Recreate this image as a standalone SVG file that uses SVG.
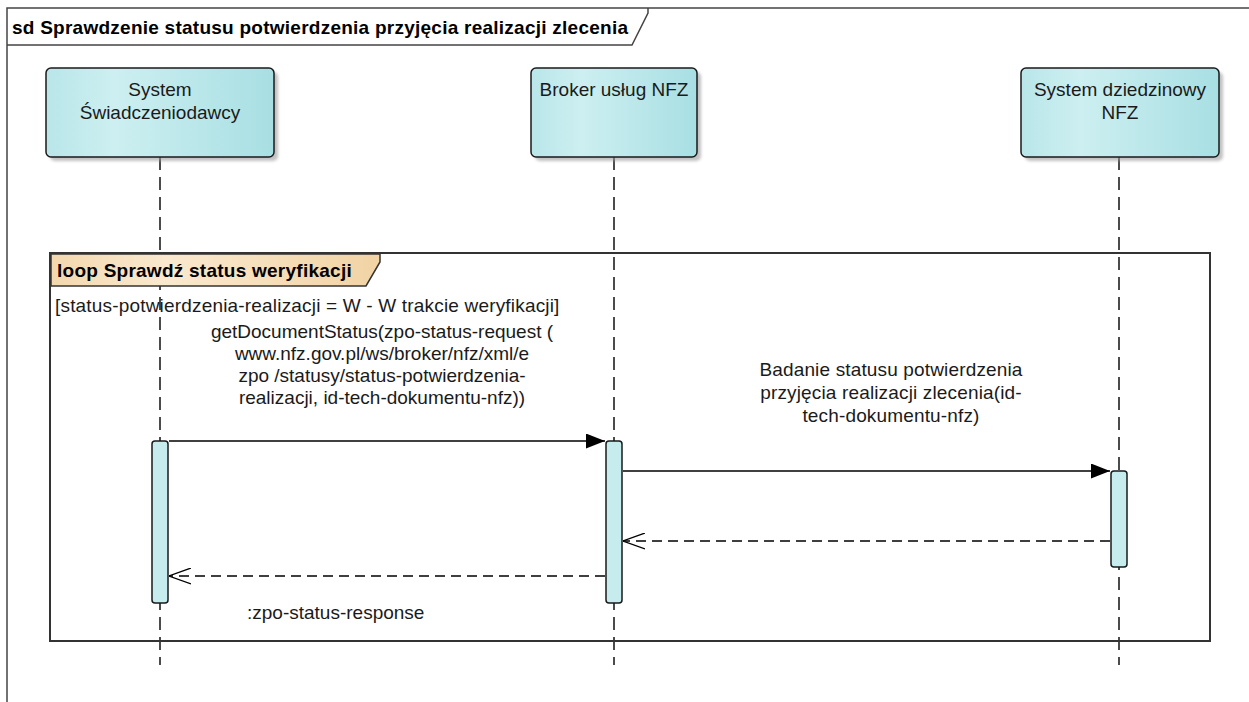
<svg xmlns="http://www.w3.org/2000/svg" width="1249" height="702" viewBox="0 0 1249 702">
<defs>
<linearGradient id="nodeGrad" x1="0" y1="0" x2="1" y2="0">
<stop offset="0" stop-color="#B9E6E9"/>
<stop offset="0.3" stop-color="#CDEFF1"/>
<stop offset="1" stop-color="#A8DFE3"/>
</linearGradient>
<linearGradient id="loopGrad" x1="0" y1="0" x2="1" y2="0">
<stop offset="0" stop-color="#F3D8AE"/>
<stop offset="0.35" stop-color="#FAE9CF"/>
<stop offset="1" stop-color="#F1D3A4"/>
</linearGradient>
<filter id="shadow" x="-10%" y="-10%" width="130%" height="130%">
<feGaussianBlur stdDeviation="1.5"/>
</filter>
<marker id="filled" viewBox="0 0 19 15" refX="19" refY="7.5" markerWidth="19" markerHeight="15" markerUnits="userSpaceOnUse" orient="auto">
<path d="M0,0 L19,7.5 L0,15 Z" fill="#000"/>
</marker>
<marker id="open" viewBox="0 0 22 17" refX="22" refY="8.5" markerWidth="22" markerHeight="17" markerUnits="userSpaceOnUse" orient="auto">
<path d="M0,0.5 L22,8.5 L0,16.5" fill="none" stroke="#000" stroke-width="1.3"/>
</marker>
</defs>
<style>
text{font-family:"Liberation Sans",Arial,sans-serif;font-size:19px;fill:#1a1a1a}
.bold{font-weight:bold;fill:#000;letter-spacing:0.25px}
.mid{text-anchor:middle}
.node{fill:url(#nodeGrad);stroke:#1a1a1a;stroke-width:1.5}
.shadow{fill:#9a9a9a;opacity:0.6;filter:url(#shadow)}
.life{stroke:#111;stroke-width:1.5;stroke-dasharray:13 7;fill:none}
.act{fill:#C6ECEE;stroke:#1a1a1a;stroke-width:1.5}
.msg{stroke:#000;stroke-width:1.5;fill:none}
.ret{stroke:#000;stroke-width:1.5;fill:none;stroke-dasharray:10 6}
</style>
<rect width="1249" height="702" fill="#fff"/>
<g id="frame">
<rect x="7" y="8" width="1300" height="760" fill="none" stroke="#444" stroke-width="1.5"/>
<path d="M7,45 H632 L648,13 V8" fill="none" stroke="#444" stroke-width="1.5"/>
<text class="bold" x="12" y="34">sd Sprawdzenie statusu potwierdzenia przyjęcia realizacji zlecenia</text>
</g>
<g id="lifelines">
<line class="life" x1="160" y1="157" x2="160" y2="665"/>
<line class="life" x1="614" y1="157" x2="614" y2="665"/>
<line class="life" x1="1119" y1="157" x2="1119" y2="665"/>
</g>
<g id="node-system-swiadczeniodawcy">
<rect class="shadow" x="50" y="72" width="228" height="89" rx="5"/>
<rect class="node" x="46" y="68" width="228" height="89" rx="5"/>
<text class="mid" x="160" y="96">System</text>
<text class="mid" x="160" y="119">Świadczeniodawcy</text>
</g>
<g id="node-broker">
<rect class="shadow" x="535" y="72" width="166" height="89" rx="5"/>
<rect class="node" x="531" y="68" width="166" height="89" rx="5"/>
<text class="mid" x="614" y="96">Broker usług NFZ</text>
</g>
<g id="node-system-dziedzinowy">
<rect class="shadow" x="1025" y="72" width="198" height="89" rx="5"/>
<rect class="node" x="1021" y="68" width="198" height="89" rx="5"/>
<text class="mid" x="1120" y="96">System dziedzinowy</text>
<text class="mid" x="1120" y="119">NFZ</text>
</g>
<g id="loop-fragment">
<rect x="50" y="253" width="1160" height="388" fill="none" stroke="#333" stroke-width="2"/>
<path d="M51,254 H380 V262 L366,286 H51 Z" fill="url(#loopGrad)" stroke="#333" stroke-width="1.5"/>
<text class="bold" x="57" y="277">loop Sprawdź status weryfikacji</text>
<text x="55" y="312" style="letter-spacing:0.18px">[status-potwierdzenia-realizacji = W - W trakcie weryfikacji]</text>
</g>
<g id="activations">
<rect class="act" x="152" y="441" width="16" height="162" rx="3"/>
<rect class="act" x="606" y="441" width="16" height="162" rx="3"/>
<rect class="act" x="1111" y="471" width="16" height="96" rx="3"/>
</g>
<g id="connectors">
<line class="msg" x1="169" y1="441" x2="605" y2="441" marker-end="url(#filled)"/>
<line class="msg" x1="623" y1="471" x2="1110" y2="471" marker-end="url(#filled)"/>
<line class="ret" x1="1110" y1="541" x2="623" y2="541" marker-end="url(#open)"/>
<line class="ret" x1="605" y1="576" x2="169" y2="576" marker-end="url(#open)"/>
</g>
<g id="labels">
<text class="mid" x="382" y="338">getDocumentStatus(zpo-status-request (</text>
<text class="mid" x="382" y="360">www.nfz.gov.pl/ws/broker/nfz/xml/e</text>
<text class="mid" x="382" y="382">zpo /statusy/status-potwierdzenia-</text>
<text class="mid" x="382" y="404">realizacji, id-tech-dokumentu-nfz))</text>
<text class="mid" x="891" y="376" style="letter-spacing:0.15px">Badanie statusu potwierdzenia</text>
<text class="mid" x="891" y="399" style="letter-spacing:0.15px">przyjęcia realizacji zlecenia(id-</text>
<text class="mid" x="891" y="422" style="letter-spacing:0.15px">tech-dokumentu-nfz)</text>
<text x="247" y="619">:zpo-status-response</text>
</g>
</svg>
